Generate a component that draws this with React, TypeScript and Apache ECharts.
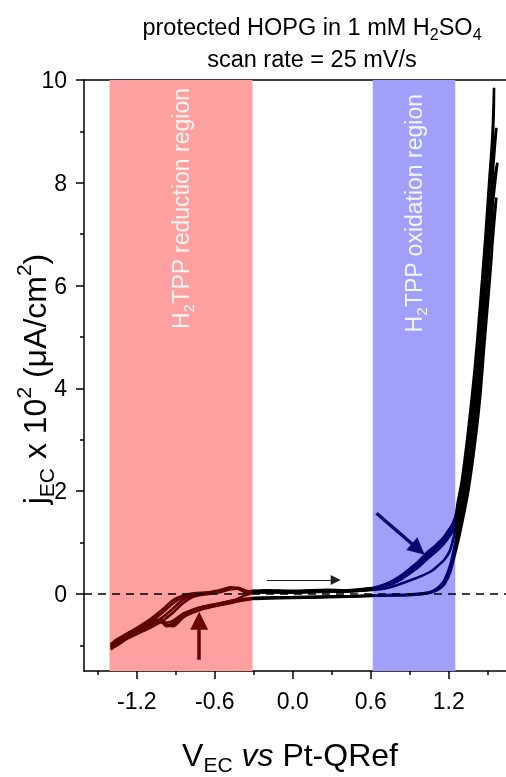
import React, { useEffect, useRef } from "react";
import * as echarts from "echarts";

// ---------- axes ----------
const X_MIN = -1.606;
const X_MAX = 1.64;
const Y_MIN = -1.5;
const Y_MAX = 10;
const X_MAJOR = [-1.2, -0.6, 0.0, 0.6, 1.2];
const X_MINOR = [-1.5, -0.9, -0.3, 0.3, 0.9, 1.5];
const Y_MAJOR = [0, 2, 4, 6, 8, 10];
const Y_MINOR = [-1, 1, 3, 5, 7, 9];

// ---------- shaded regions ----------
const RED_BAND = [-1.41, -0.31];
const BLUE_BAND = [0.615, 1.25];
const RED_BAND_TEXT = "H{sub|2}TPP reduction region";
const BLUE_BAND_TEXT = "H{sub|2}TPP oxidation region";

// ---------- CV data: potentials (V) ----------
const FWD_V = [
  -1.40, -1.35, -1.28, -1.20, -1.10, -1.00, -0.92, -0.84, -0.76, -0.65, -0.55, -0.48, -0.42, -0.36, -0.31,
  -0.20, 0.00, 0.27, 0.40, 0.55,
  0.62, 0.70, 0.77, 0.84, 0.90, 0.97, 1.03, 1.10, 1.16, 1.20, 1.25,
  1.27, 1.30, 1.35, 1.40, 1.44, 1.48, 1.51, 1.535,
];
const REV_V = [
  1.545, 1.53, 1.505, 1.475, 1.44, 1.40, 1.35, 1.30, 1.27, 1.25,
  1.21, 1.17, 1.13, 1.07, 1.00, 0.90, 0.70, 0.50, 0.20, 0.00,
  -0.20, -0.31, -0.45, -0.60, -0.71, -0.84, -0.92, -0.97, -1.02, -1.10,
  -1.20, -1.28, -1.35, -1.40,
];

// ---------- CV data: currents (jEC x 10^2 uA/cm2) per cycle ----------
const C1_FWD = [
  -1.02, -0.92, -0.80, -0.70, -0.55, -0.36, -0.18, -0.05, 0.00, 0.02, 0.07, 0.12, 0.11, 0.05, 0.05,
  0.06, 0.05, 0.07, 0.06, 0.09,
  0.11, 0.17, 0.25, 0.35, 0.47, 0.62, 0.77, 0.92, 1.08, 1.22, 1.50,
  1.80, 2.20, 3.20, 4.40, 5.60, 6.90, 8.00, 8.90,
];
const C1_PEAK = [1.548, 9.85];
const C1_REV = [
  9.3, 8.4, 7.4, 6.4, 5.3, 4.2, 3.0, 1.95, 1.55, 1.25,
  0.85, 0.68, 0.58, 0.45, 0.36, 0.26, 0.10, 0.06, 0.04, 0.03,
  0.03, 0.02, -0.12, -0.20, -0.26, -0.38, -0.52, -0.56, -0.50, -0.58,
  -0.70, -0.80, -0.92, -1.00,
];

const C2_FWD = [
  -1.05, -0.95, -0.84, -0.74, -0.62, -0.45, -0.28, -0.10, -0.02, 0.01, 0.05, 0.10, 0.12, 0.06, 0.04,
  0.05, 0.04, 0.06, 0.05, 0.08,
  0.10, 0.15, 0.22, 0.32, 0.44, 0.58, 0.72, 0.87, 1.02, 1.15, 1.35,
  1.50, 1.85, 2.75, 3.90, 4.95, 6.20, 7.20, 8.10,
];
const C2_PEAK = [1.566, 9.07];
const C2_REV = [
  8.6, 7.9, 6.9, 5.9, 4.8, 3.7, 2.6, 1.7, 1.3, 1.0,
  0.55, 0.29, 0.15, 0.05, 0.01, -0.01, -0.02, -0.04, -0.06, -0.07,
  -0.08, -0.09, -0.15, -0.22, -0.28, -0.41, -0.60, -0.63, -0.52, -0.62,
  -0.74, -0.86, -0.98, -1.05,
];

const C3_FWD = [
  -0.98, -0.88, -0.78, -0.66, -0.50, -0.30, -0.12, -0.03, 0.01, 0.03, 0.08, 0.13, 0.10, 0.04, 0.06,
  0.07, 0.06, 0.08, 0.07, 0.10,
  0.12, 0.18, 0.26, 0.37, 0.49, 0.64, 0.80, 0.95, 1.10, 1.25, 1.40,
  1.50, 1.70, 2.45, 3.50, 4.50, 5.60, 6.60, 7.50,
];
const C3_PEAK = [1.574, 8.39];
const C3_REV = [
  8.0, 7.3, 6.4, 5.4, 4.3, 3.3, 2.3, 1.5, 1.15, 0.9,
  0.48, 0.25, 0.12, 0.04, 0.00, -0.02, -0.03, -0.05, -0.07, -0.08,
  -0.09, -0.10, -0.16, -0.24, -0.31, -0.45, -0.63, -0.60, -0.55, -0.66,
  -0.78, -0.88, -1.00, -1.06,
];

const C4_FWD = [
  -1.08, -0.98, -0.86, -0.76, -0.66, -0.52, -0.36, -0.17, -0.05, 0.00, 0.04, 0.09, 0.10, 0.03, 0.05,
  0.04, 0.03, 0.05, 0.05, 0.07,
  0.09, 0.14, 0.20, 0.29, 0.40, 0.53, 0.67, 0.82, 0.97, 1.10, 1.30,
  1.40, 1.55, 2.20, 3.10, 4.00, 5.10, 6.00, 6.80,
];
const C4_PEAK = [1.566, 7.71];
const C4_REV = [
  7.3, 6.6, 5.8, 4.9, 3.8, 2.9, 2.0, 1.35, 1.0, 0.8,
  0.42, 0.20, 0.10, 0.03, 0.00, -0.02, -0.03, -0.04, -0.05, -0.06,
  -0.07, -0.08, -0.13, -0.21, -0.27, -0.39, -0.56, -0.62, -0.50, -0.60,
  -0.72, -0.83, -0.95, -1.03,
];

// ---------- annotation arrows (data coords) ----------
const ARROW_SCAN = [[-0.20, 0.27], [0.33, 0.27]];
const ARROW_RED = [[-0.72, -1.28], [-0.72, -0.52]];
const ARROW_BLUE = [[0.644, 1.57], [0.965, 0.87]];

const FONT = "Liberation Sans, Arial, sans-serif";

function buildCycle(fwd: number[], peak: number[], rev: number[]) {
  const pts: number[][] = [];
  fwd.forEach((j, i) => pts.push([FWD_V[i], j]));
  pts.push([peak[0], peak[1]]);
  rev.forEach((j, i) => pts.push([REV_V[i], j]));
  return pts;
}

const CYCLES = [
  buildCycle(C1_FWD, C1_PEAK, C1_REV),
  buildCycle(C2_FWD, C2_PEAK, C2_REV),
  buildCycle(C3_FWD, C3_PEAK, C3_REV),
  buildCycle(C4_FWD, C4_PEAK, C4_REV),
];

export default function App() {
  const ref = useRef<HTMLDivElement>(null);
  useEffect(() => {
    const chart = echarts.init(ref.current!, null, { renderer: "svg" });
    const axisLine = { color: "#000", width: 1.5 };
    const bandLabel = (text: string, dist: number) => ({
      show: true,
      position: "insideTop",
      rotate: 90,
      align: "right",
      verticalAlign: "middle",
      distance: dist,
      formatter: text,
      color: "rgba(255,255,255,0.9)",
      fontSize: 23,
      fontFamily: FONT,
      lineHeight: 30,
      rich: {
        sub: { fontSize: 15, fontFamily: FONT, color: "rgba(255,255,255,0.9)", verticalAlign: "bottom", lineHeight: 30 },
      },
    });

    const curveSeries = CYCLES.map((d) => ({
      type: "line",
      data: d,
      showSymbol: false,
      symbol: "none",
      smooth: 0.3,
      lineStyle: { width: 2.6 },
      z: 3,
      silent: true,
    }));

    const arrow = (coords: number[][], color: string, width: number, size: number) => ({
      type: "lines",
      coordinateSystem: "cartesian2d",
      symbol: ["none", "triangle"],
      symbolSize: size,
      silent: true,
      z: 5,
      lineStyle: { color, width, opacity: 1, curveness: 0 },
      itemStyle: { color },
      data: [{ coords }],
    });

    chart.setOption({
      animation: false,
      grid: { left: 84, right: 0, top: 80, bottom: 106, containLabel: false },
      xAxis: [
        {
          type: "value", min: X_MIN, max: X_MAX, position: "bottom",
          axisLine: { show: true, onZero: false, lineStyle: axisLine },
          axisTick: { show: true, length: 8, lineStyle: axisLine, customValues: X_MAJOR },
          axisLabel: {
            show: true, customValues: X_MAJOR, margin: 18, fontSize: 23, fontFamily: FONT, color: "#000",
            formatter: (v: number) => v.toFixed(1),
          },
          splitLine: { show: false },
        },
        {
          type: "value", min: X_MIN, max: X_MAX, position: "bottom",
          axisLine: { show: false, onZero: false },
          axisTick: { show: true, length: 4, lineStyle: axisLine, customValues: X_MINOR },
          axisLabel: { show: false },
          splitLine: { show: false },
        },
        {
          type: "value", min: X_MIN, max: X_MAX, position: "top",
          axisLine: { show: true, onZero: false, lineStyle: axisLine },
          axisTick: { show: false },
          axisLabel: { show: false },
          splitLine: { show: false },
        },
      ],
      yAxis: [
        {
          type: "value", min: Y_MIN, max: Y_MAX, position: "left",
          axisLine: { show: true, onZero: false, lineStyle: axisLine },
          axisTick: { show: true, length: 8, lineStyle: axisLine, customValues: Y_MAJOR },
          axisLabel: {
            show: true, customValues: Y_MAJOR, margin: 17, fontSize: 23, fontFamily: FONT, color: "#000",
            formatter: (v: number) => String(v),
          },
          splitLine: { show: false },
        },
        {
          type: "value", min: Y_MIN, max: Y_MAX, position: "left",
          axisLine: { show: false, onZero: false },
          axisTick: { show: true, length: 4, lineStyle: axisLine, customValues: Y_MINOR },
          axisLabel: { show: false },
          splitLine: { show: false },
        },
      ],
      visualMap: {
        type: "piecewise",
        show: false,
        dimension: 0,
        seriesIndex: [1, 2, 3, 4],
        pieces: [
          { lt: RED_BAND[1], color: "#5e0000" },
          { gte: RED_BAND[1], lt: BLUE_BAND[0], color: "#000000" },
          { gte: BLUE_BAND[0], lt: BLUE_BAND[1], color: "#00006e" },
          { gte: BLUE_BAND[1], color: "#000000" },
        ],
      },
      series: [
        {
          type: "line",
          data: [],
          silent: true,
          z: 1,
          markArea: {
            silent: true,
            data: [
              [
                { xAxis: RED_BAND[0], itemStyle: { color: "#ffa0a0", opacity: 1 }, label: bandLabel(RED_BAND_TEXT, 8) },
                { xAxis: RED_BAND[1] },
              ],
              [
                { xAxis: BLUE_BAND[0], itemStyle: { color: "#a0a0fa", opacity: 1 }, label: bandLabel(BLUE_BAND_TEXT, 14) },
                { xAxis: BLUE_BAND[1] },
              ],
            ],
          },
          markLine: {
            silent: true,
            symbol: "none",
            label: { show: false },
            lineStyle: { color: "#000", width: 1.5, type: [8, 6] },
            data: [{ yAxis: 0 }],
          },
        },
        ...curveSeries,
        arrow(ARROW_SCAN, "#222", 1, 10),
        arrow(ARROW_RED, "#6b0000", 3.5, 18),
        arrow(ARROW_BLUE, "#0a0a6e", 3.5, 17),
      ],
      graphic: [
        {
          type: "text", x: 312, y: 27,
          style: {
            text: "protected HOPG in 1 mM H{sub|2}SO{sub|4}",
            fontSize: 23.5, fontFamily: FONT, fill: "#000", align: "center", verticalAlign: "middle", lineHeight: 31,
            rich: { sub: { fontSize: 16, fontFamily: FONT, verticalAlign: "bottom", lineHeight: 31 } },
          },
        },
        {
          type: "text", x: 312, y: 59,
          style: {
            text: "scan rate = 25 mV/s",
            fontSize: 23.5, fontFamily: FONT, fill: "#000", align: "center", verticalAlign: "middle",
          },
        },
        {
          type: "text", x: 35, y: 379, rotation: Math.PI / 2,
          style: {
            text: "j{sub|EC} x 10{sup|2} (μA/cm{sup|2})",
            fontSize: 32, fontFamily: FONT, fill: "#000", align: "center", verticalAlign: "middle", lineHeight: 44,
            rich: {
              sub: { fontSize: 21, fontFamily: FONT, verticalAlign: "bottom", lineHeight: 44 },
              sup: { fontSize: 21, fontFamily: FONT, verticalAlign: "top", lineHeight: 44 },
            },
          },
        },
        {
          type: "text", x: 290, y: 755,
          style: {
            text: "V{sub|EC} {it|vs} Pt-QRef",
            fontSize: 32, fontFamily: FONT, fill: "#000", align: "center", verticalAlign: "middle", lineHeight: 40,
            rich: {
              sub: { fontSize: 21, fontFamily: FONT, verticalAlign: "bottom", lineHeight: 40 },
              it: { fontSize: 32, fontFamily: FONT, fontStyle: "italic", lineHeight: 40 },
            },
          },
        },
      ],
    });
    return () => chart.dispose();
  }, []);
  return <div ref={ref} style={{ position: "fixed", left: 0, top: 0, width: 506, height: 777 }} />;
}
